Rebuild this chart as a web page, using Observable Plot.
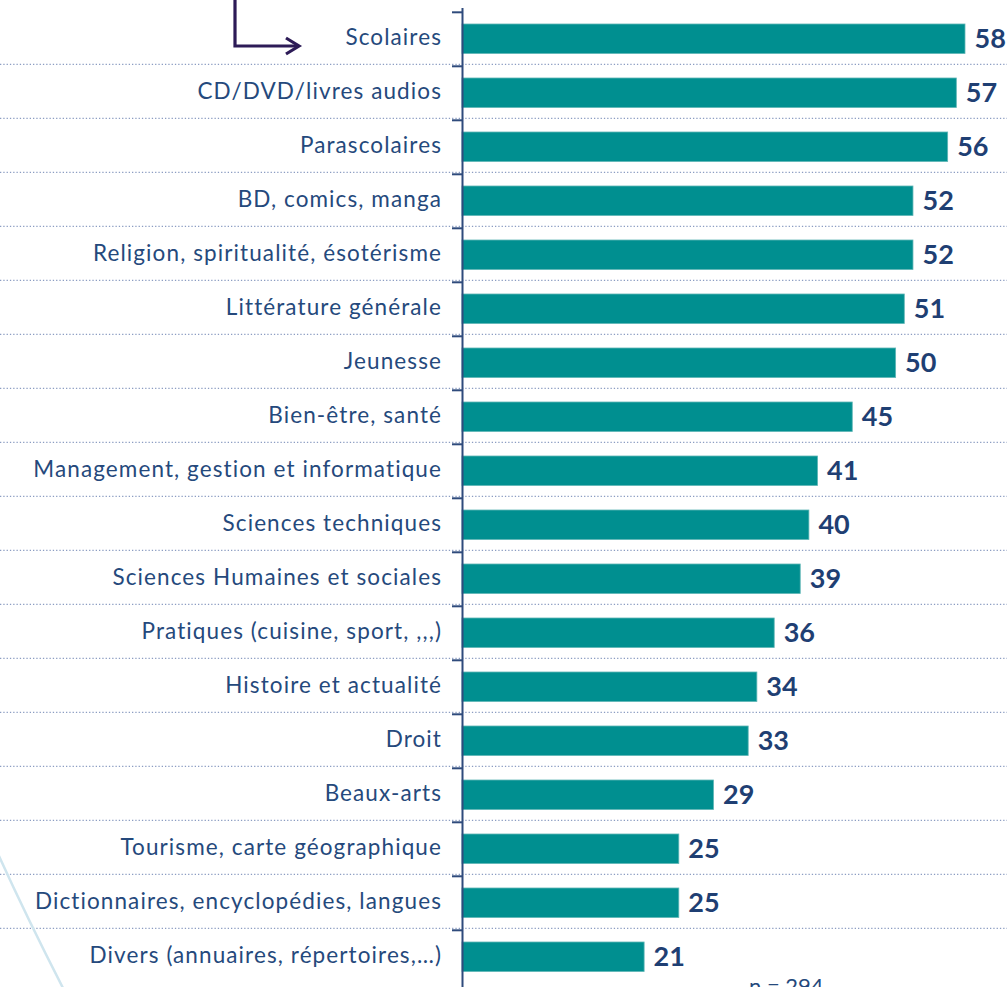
<!DOCTYPE html>
<html><head><meta charset="utf-8">
<script src="https://cdn.jsdelivr.net/npm/d3@7"></script>
<script src="https://cdn.jsdelivr.net/npm/@observablehq/plot@0.6"></script>
<style>
body{margin:0;background:#fff}
#wrap{position:relative;width:1007px;height:987px;overflow:hidden;background:#fff}
#wrap svg.overlay{position:absolute;left:0;top:0;pointer-events:none}
#wrap g[aria-label="y-axis tick label"] text{letter-spacing:1.1px}
</style>
</head><body><div id="wrap"></div>
<script>
const categories = [
  "Scolaires",
  "CD/DVD/livres audios",
  "Parascolaires",
  "BD, comics, manga",
  "Religion, spiritualité, ésotérisme",
  "Littérature générale",
  "Jeunesse",
  "Bien-être, santé",
  "Management, gestion et informatique",
  "Sciences techniques",
  "Sciences Humaines et sociales",
  "Pratiques (cuisine, sport, ,,,)",
  "Histoire et actualité",
  "Droit",
  "Beaux-arts",
  "Tourisme, carte géographique",
  "Dictionnaires, encyclopédies, langues",
  "Divers (annuaires, répertoires,…)"
];
const values = [58, 57, 56, 52, 52, 51, 50, 45, 41, 40, 39, 36, 34, 33, 29, 25, 25, 21];
const sampleNote = "n = 294";

const data = categories.map((c, i) => ({cat: c, value: values[i]}));

const W = 1007, H = 987, mTop = 8, mLeft = 462, mRight = 42;
const step = (H - mTop) / categories.length;
const labelColor = "#25497c";
const valueColor = "#1f3f73";
const barColor = "#008f90";
const axisColor = "#2f4b7c";

const chart = Plot.plot({
  width: W, height: H,
  marginLeft: mLeft, marginRight: mRight, marginTop: mTop, marginBottom: 0,
  style: {fontFamily: "Lato, sans-serif", background: "transparent", overflow: "visible"},
  x: {domain: [0, 58], axis: null},
  y: {domain: categories, padding: 0, axis: null},
  marks: [
    // dotted separators across the full width
    Plot.ruleY(categories.slice(1), {
      y: d => d, dy: -step / 2 - 2, insetLeft: -mLeft, insetRight: -mRight,
      stroke: "#8c9dc2", strokeWidth: 1.2, strokeDasharray: "1.3,2"
    }),
    Plot.barX(data, {
      x: "value", y: "cat", fill: barColor,
      insetTop: 12, insetBottom: 12.5,
      stroke: "#5fb6b6", strokeWidth: 0.8
    }),
    // vertical axis line
    Plot.ruleX([0], {stroke: axisColor, strokeWidth: 2}),
    // tick marks at band boundaries
    Plot.axisY({
      tickSize: 10, tickFormat: () => "", dy: -step / 2, label: null,
      stroke: axisColor, strokeWidth: 2, anchor: "left"
    }),
    // category labels
    Plot.axisY({
      tickSize: 0, tickPadding: 20.5, anchor: "left", label: null,
      fill: labelColor, fontSize: 22.5, dy: -1.5
    }),
    // value labels
    Plot.text(data, {
      x: "value", y: "cat", text: d => String(d.value),
      textAnchor: "start", dx: 9, dy: 0,
      fill: valueColor, fontSize: 27, fontWeight: "bold"
    })
  ]
});

const wrap = document.getElementById("wrap");
wrap.appendChild(chart);

// decorative overlay: arrow, curve, sample size note
const ns = "http://www.w3.org/2000/svg";
const ov = document.createElementNS(ns, "svg");
ov.setAttribute("class", "overlay");
ov.setAttribute("width", W);
ov.setAttribute("height", H);
ov.innerHTML = `
  <path d="M -6 845 Q 24 912 64 990" fill="none" stroke="#cfe5ee" stroke-width="2.5"/>
  <path d="M 235 -2 L 235 46 L 298 46" fill="none" stroke="#2d1b57" stroke-width="3.2"/>
  <path d="M 286 38 L 299 46 L 286 54" fill="none" stroke="#2d1b57" stroke-width="3.2" stroke-linejoin="miter"/>
  <text x="749" y="994" font-family="Lato, sans-serif" font-size="22" fill="${labelColor}">${sampleNote}</text>
`;
wrap.appendChild(ov);
</script>
</body></html>
